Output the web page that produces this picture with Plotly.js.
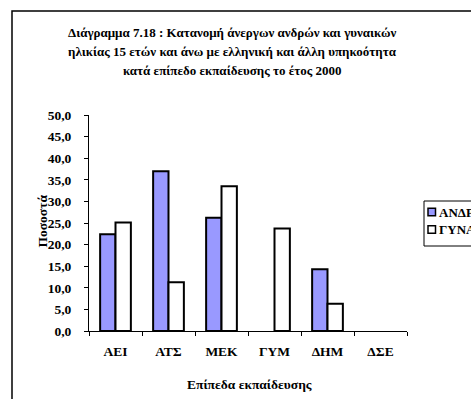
<!DOCTYPE html>
<html>
<head>
<meta charset="utf-8">
<script src="https://cdn.plot.ly/plotly-3.0.1.min.js"></script>
<style>html,body{margin:0;padding:0;background:#fff;}#chart{width:471px;height:399px;}</style>
</head>
<body>
<div id="chart"></div>
<script>
const categories = ["ΑΕΙ", "ΑΤΣ", "ΜΕΚ", "ΓΥΜ", "ΔΗΜ", "ΔΣΕ"];
const seriesNames = ["ΑΝΔΡΕΣ", "ΓΥΝΑΙΚΕΣ"];
const men = [22.4, 37.0, 26.2, null, 14.3, null];
const women = [25.1, 11.3, 33.5, 23.7, 6.3, null];
const seriesColors = ["#9999FF", "#FFFFFF"];
const titleLines = [
  "Διάγραμμα 7.18 : Κατανομή άνεργων ανδρών και γυναικών",
  "ηλικίας 15 ετών και άνω με ελληνική και άλλη υπηκοότητα",
  "κατά επίπεδο εκπαίδευσης το έτος 2000"
];
const xTitle = "Επίπεδα εκπαίδευσης";
const yTitle = "Ποσοστά";

const FONT = "Liberation Serif";
const W = 471, H = 399;
const M = {l: 89, r: 64, t: 115, b: 68};
const PW = W - M.l - M.r, PH = H - M.t - M.b;
const px = x => (x - M.l) / PW;
const py = y => (H - M.b - y) / PH;
const bold = (size) => ({family: FONT, size: size, color: '#000', weight: 'bold'});

const traces = [
  {type: 'bar', name: seriesNames[0], x: categories, y: men,
   marker: {color: seriesColors[0], line: {color: '#000', width: 2}}, hoverinfo: 'none'},
  {type: 'bar', name: seriesNames[1], x: categories, y: women,
   marker: {color: seriesColors[1], line: {color: '#000', width: 2}}, hoverinfo: 'none'}
];

const titleY = [32.7, 51.7, 70.7];
const annotations = titleLines.map((t, i) => ({
  text: t, xref: 'paper', yref: 'paper', x: px(232), y: py(titleY[i]),
  xanchor: 'center', yanchor: 'middle', showarrow: false, font: bold(13)
}));
annotations.push({
  text: yTitle, xref: 'paper', yref: 'paper', x: px(41.5), y: py(221),
  xanchor: 'center', yanchor: 'middle', showarrow: false, textangle: -90, font: bold(13.5)
});
annotations.push({
  text: xTitle, xref: 'paper', yref: 'paper', x: px(249), y: py(384),
  xanchor: 'center', yanchor: 'middle', showarrow: false, font: bold(13.5)
});

// legend (drawn by hand to match the original's compact box)
const shapes = [{
  type: 'rect', xref: 'paper', yref: 'paper',
  x0: px(12), x1: px(520), y0: py(450), y1: py(11),
  line: {color: '#000', width: 1.5}, fillcolor: 'rgba(0,0,0,0)', layer: 'below'
}, {
  type: 'rect', xref: 'paper', yref: 'paper',
  x0: px(424), x1: px(520), y0: py(246), y1: py(201),
  line: {color: '#000', width: 1}, fillcolor: '#fff', layer: 'above'
}];
const legY = [212, 229.5];
seriesNames.forEach((n, i) => {
  shapes.push({
    type: 'rect', xref: 'paper', yref: 'paper',
    x0: px(428), x1: px(435.5), y0: py(legY[i] + 3.8), y1: py(legY[i] - 3.8),
    line: {color: '#000', width: 1.5}, fillcolor: seriesColors[i], layer: 'above'
  });
  annotations.push({
    text: n, xref: 'paper', yref: 'paper', x: px(437), y: py(legY[i]),
    xanchor: 'left', yanchor: 'middle', showarrow: false, font: bold(13)
  });
});

const layout = {
  width: W, height: H,
  margin: {l: M.l, r: M.r, t: M.t, b: M.b, autoexpand: false},
  paper_bgcolor: '#fff', plot_bgcolor: '#fff',
  separators: ',.',
  barmode: 'group', bargap: 0.42, bargroupgap: 0,
  font: bold(13),
  showlegend: false,
  xaxis: {
    type: 'category', showline: true, linecolor: '#000', linewidth: 1,
    ticks: 'outside', tickson: 'boundaries', ticklen: 4, tickcolor: '#000',
    showgrid: false, zeroline: false, fixedrange: true, ticklabelstandoff: 8,
    tickfont: bold(13.5)
  },
  yaxis: {
    range: [0, 50], dtick: 5, tick0: 0, tickformat: '.1f',
    showline: true, linecolor: '#000', linewidth: 1,
    ticks: 'outside', ticklen: 4, tickcolor: '#000',
    showgrid: false, zeroline: false, fixedrange: true, ticklabelstandoff: 10,
    tickfont: bold(13.5)
  },
  annotations: annotations,
  shapes: shapes
};

Plotly.newPlot('chart', traces, layout, {displayModeBar: false, staticPlot: true});
</script>
</body>
</html>
